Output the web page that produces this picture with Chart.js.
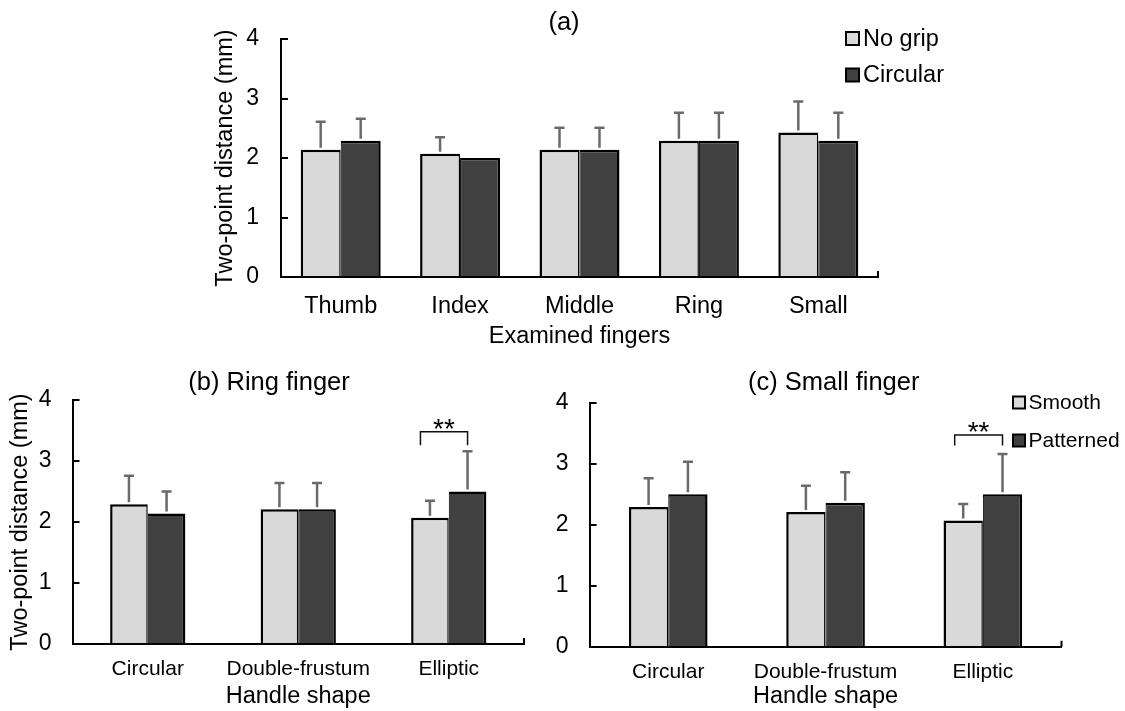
<!DOCTYPE html>
<html>
<head>
<meta charset="utf-8">
<script src="https://cdn.jsdelivr.net/npm/chart.js@4.4.1/dist/chart.umd.min.js"></script>
<style>
  html, body { margin: 0; padding: 0; background: #fff; }
  body { width: 1125px; height: 711px; position: relative; overflow: hidden; }
  canvas { position: absolute; }
</style>
</head>
<body>
<canvas id="panelA" width="1125" height="360" style="left:0;top:0;width:1125px;height:360px"></canvas>
<canvas id="panelB" width="560" height="351" style="left:0;top:360px;width:560px;height:351px"></canvas>
<canvas id="panelC" width="585" height="351" style="left:540px;top:360px;width:585px;height:351px"></canvas>
<script>
// (a) Two-point discrimination per finger: bare hand vs. circular handle
const fingerLabels = ['Thumb', 'Index', 'Middle', 'Ring', 'Small'];
const noGripMean = [2.14, 2.07, 2.14, 2.29, 2.43];
const noGripSD = [0.47, 0.28, 0.37, 0.47, 0.52];
const circularMean = [2.29, 2.00, 2.14, 2.29, 2.29];
const circularSD = [0.37, 0.00, 0.37, 0.47, 0.47];

// (b) and (c) Handle shape comparison: smooth vs. patterned surface
const shapeLabels = ['Circular', 'Double-frustum', 'Elliptic'];
const ringSmoothMean = [2.29, 2.21, 2.07];
const ringSmoothSD = [0.47, 0.43, 0.28];
const ringPatternedMean = [2.14, 2.21, 2.50];
const ringPatternedSD = [0.36, 0.43, 0.66];
const smallSmoothMean = [2.29, 2.21, 2.07];
const smallSmoothSD = [0.47, 0.43, 0.27];
const smallPatternedMean = [2.50, 2.36, 2.50];
const smallPatternedSD = [0.53, 0.50, 0.66];

// Shared value axis ticks (mm)
const yTickValues = [0, 1, 2, 3, 4];

// Significant pair (p < 0.01) on the Elliptic handle; bracket leg / top heights in mm
const sigCategory = 2;
const sigLabel = '**';
const ringBracket = [3.26, 3.48];
const smallBracket = [3.30, 3.47];

const FONT = "'Liberation Sans', Arial, Helvetica, sans-serif";
const LIGHT = '#d9d9d9';
const DARK = '#404040';
const LH = 1.2;

// Upward-only standard deviation whiskers
const errorBarPlugin = {
  id: 'errorBars',
  afterDatasetsDraw(chart) {
    const { ctx } = chart;
    const y = chart.scales.y;
    ctx.save();
    ctx.strokeStyle = '#6a6a6a';
    ctx.lineWidth = 2.5;
    chart.data.datasets.forEach((ds, i) => {
      chart.getDatasetMeta(i).data.forEach((bar, j) => {
        const sd = ds.sd[j];
        if (!sd) return;
        const top = y.getPixelForValue(ds.data[j] + sd);
        ctx.beginPath();
        ctx.moveTo(bar.x, bar.y - 2);
        ctx.lineTo(bar.x, top);
        ctx.moveTo(bar.x - 5, top);
        ctx.lineTo(bar.x + 5, top);
        ctx.stroke();
      });
    });
    ctx.restore();
  }
};

// Inward tick marks on the value axis and the end mark of the category axis
const axisMarksPlugin = {
  id: 'axisMarks',
  afterDraw(chart) {
    const { ctx, chartArea: a } = chart;
    const y = chart.scales.y;
    ctx.save();
    ctx.strokeStyle = '#000';
    ctx.lineWidth = 2;
    ctx.beginPath();
    y.ticks.forEach(t => {
      const py = Math.round(y.getPixelForValue(t.value));
      ctx.moveTo(a.left, py);
      ctx.lineTo(a.left + 7, py);
    });
    ctx.moveTo(a.right, a.bottom);
    ctx.lineTo(a.right, a.bottom - 6);
    ctx.stroke();
    ctx.restore();
  }
};

const panelTitlePlugin = {
  id: 'panelTitle',
  afterDraw(chart, args, opts) {
    const { ctx } = chart;
    ctx.save();
    ctx.font = `${opts.size}px ${FONT}`;
    ctx.fillStyle = '#000';
    ctx.textAlign = 'center';
    ctx.textBaseline = 'middle';
    ctx.fillText(opts.text, opts.x, opts.y);
    ctx.restore();
  }
};

const boxLegendPlugin = {
  id: 'boxLegend',
  afterDraw(chart, args, opts) {
    const { ctx } = chart;
    ctx.save();
    ctx.font = `${opts.size}px ${FONT}`;
    ctx.textAlign = 'left';
    ctx.textBaseline = 'middle';
    chart.data.datasets.forEach((ds, i) => {
      const cy = opts.rows[i];
      ctx.fillStyle = ds.backgroundColor;
      ctx.fillRect(opts.x, cy - opts.box / 2, opts.box, opts.box);
      ctx.strokeStyle = '#000';
      ctx.lineWidth = 2;
      ctx.strokeRect(opts.x, cy - opts.box / 2, opts.box, opts.box);
      ctx.fillStyle = '#000';
      ctx.fillText(ds.label, opts.textX, cy + 1);
    });
    ctx.restore();
  }
};

const bracketPlugin = {
  id: 'sigBracket',
  afterDatasetsDraw(chart, args, opts) {
    const { ctx } = chart;
    const y = chart.scales.y;
    const a = chart.getDatasetMeta(0).data[opts.category];
    const b = chart.getDatasetMeta(1).data[opts.category];
    const x0 = a.x - opts.inset;
    const x1 = b.x;
    const yLeg = y.getPixelForValue(opts.levels[0]);
    const yTop = y.getPixelForValue(opts.levels[1]);
    ctx.save();
    ctx.strokeStyle = '#111';
    ctx.lineWidth = 1.5;
    ctx.beginPath();
    ctx.moveTo(x0, yLeg);
    ctx.lineTo(x0, yTop);
    ctx.lineTo(x1, yTop);
    ctx.lineTo(x1, yLeg);
    ctx.stroke();
    ctx.fillStyle = '#000';
    ctx.font = `${opts.size}px ${FONT}`;
    ctx.textAlign = 'center';
    ctx.textBaseline = 'middle';
    ctx.fillText(opts.label, (x0 + x1) / 2, yTop - opts.lift);
    ctx.restore();
  }
};

function barSet(label, data, sd, color, light) {
  return {
    label, data, sd,
    backgroundColor: color,
    borderColor: '#000',
    borderWidth: light ? { left: 2.5, right: 1.5, top: 2.5, bottom: 0 } : { left: 1, right: 2.5, top: 2.5, bottom: 0 },
    borderSkipped: 'start'
  };
}

// Builds a bar chart whose plot frame sits at fixed canvas coordinates
function makePanel(id, p) {
  const W = p.width, H = p.height;
  const tickLH = p.xTickSize * LH;
  const titleLH = p.xTitleSize * LH;
  const xAxisH = p.xTitleCenter + titleLH / 2 - p.plot.b;
  const plugins = [errorBarPlugin, axisMarksPlugin, panelTitlePlugin];
  if (p.legend) plugins.push(boxLegendPlugin);
  if (p.bracket) plugins.push(bracketPlugin);
  const pluginOpts = {
    legend: { display: false },
    tooltip: { enabled: false },
    title: { display: false },
    panelTitle: p.title
  };
  if (p.legend) pluginOpts.boxLegend = p.legend;
  if (p.bracket) pluginOpts.sigBracket = p.bracket;

  return new Chart(document.getElementById(id), {
    type: 'bar',
    data: { labels: p.labels, datasets: p.datasets },
    plugins,
    options: {
      responsive: false,
      animation: false,
      devicePixelRatio: 1,
      layout: {
        padding: { left: p.yBoxLeft, right: W - p.plot.r, top: p.plot.t, bottom: H - p.plot.b - xAxisH }
      },
      datasets: { bar: { categoryPercentage: p.catPct, barPercentage: 1.0 } },
      plugins: pluginOpts,
      scales: {
        x: {
          grid: { display: false, drawTicks: false },
          border: { display: true, color: '#000', width: 2, z: 1 },
          ticks: {
            color: '#000', padding: p.xTickCenter - p.plot.b - tickLH / 2,
            font: { family: FONT, size: p.xTickSize, lineHeight: LH }, maxRotation: 0, autoSkip: false
          },
          title: {
            display: true, text: p.xTitle, color: '#000', padding: { top: 0, bottom: 0 },
            font: { family: FONT, size: p.xTitleSize, lineHeight: LH }
          },
          afterFit(scale) { scale.height = xAxisH; }
        },
        y: {
          min: 0, max: 4,
          afterBuildTicks(scale) { scale.ticks = yTickValues.map(v => ({ value: v })); },
          grid: { display: false, drawTicks: false },
          border: { display: true, color: '#000', width: 2, z: 1 },
          ticks: {
            color: '#000', padding: p.yTickPad,
            font: { family: FONT, size: p.yTickSize, lineHeight: LH }
          },
          title: {
            display: !!p.yTitle, text: p.yTitle || '', color: '#000', padding: { top: 0, bottom: 0 },
            font: { family: FONT, size: p.yTitleSize, lineHeight: LH }
          },
          afterFit(scale) { scale.width = p.plot.l - p.yBoxLeft; }
        }
      }
    }
  });
}

makePanel('panelA', {
  width: 1125, height: 360,
  labels: fingerLabels,
  datasets: [
    barSet('No grip', noGripMean, noGripSD, LIGHT, true),
    barSet('Circular', circularMean, circularSD, DARK, false)
  ],
  catPct: 0.67,
  plot: { l: 281, r: 878, t: 39, b: 277 },
  yBoxLeft: 211,
  yTitle: 'Two-point distance (mm)', yTitleSize: 23.5,
  yTickSize: 23, yTickPad: 22,
  xTickSize: 23.5, xTickCenter: 307,
  xTitle: 'Examined fingers', xTitleSize: 23.5, xTitleCenter: 337,
  title: { text: '(a)', x: 564, y: 23, size: 25.5 },
  legend: { x: 846, box: 13, rows: [38.5, 75], textX: 863, size: 23.5 }
});

makePanel('panelB', {
  width: 560, height: 351,
  labels: shapeLabels,
  datasets: [
    barSet('Smooth', ringSmoothMean, ringSmoothSD, LIGHT, true),
    barSet('Patterned', ringPatternedMean, ringPatternedSD, DARK, false)
  ],
  catPct: 0.5,
  plot: { l: 72.5, r: 524, t: 40, b: 284 },
  yBoxLeft: 6,
  yTitle: 'Two-point distance (mm)', yTitleSize: 23.5,
  yTickSize: 23, yTickPad: 21,
  xTickSize: 21, xTickCenter: 309,
  xTitle: 'Handle shape', xTitleSize: 23.5, xTitleCenter: 336.7,
  title: { text: '(b) Ring finger', x: 269, y: 22.5, size: 25.5 },
  bracket: { category: sigCategory, levels: ringBracket, inset: 9.5, label: sigLabel, size: 28, lift: 1 }
});

makePanel('panelC', {
  width: 585, height: 351,
  labels: shapeLabels,
  datasets: [
    barSet('Smooth', smallSmoothMean, smallSmoothSD, LIGHT, true),
    barSet('Patterned', smallPatternedMean, smallPatternedSD, DARK, false)
  ],
  catPct: 0.5,
  plot: { l: 49.6, r: 521.5, t: 42.7, b: 286.7 },
  yBoxLeft: 0,
  yTitle: '', yTitleSize: 23.5,
  yTickSize: 23, yTickPad: 21,
  xTickSize: 21, xTickCenter: 312.5,
  xTitle: 'Handle shape', xTitleSize: 23.5, xTitleCenter: 336.7,
  title: { text: '(c) Small finger', x: 293.7, y: 22.5, size: 25.5 },
  legend: { x: 473, box: 12, rows: [42.5, 80.5], textX: 488.5, size: 21 },
  bracket: { category: sigCategory, levels: smallBracket, inset: 8.5, label: sigLabel, size: 28, lift: 2 }
});
</script>
</body>
</html>
